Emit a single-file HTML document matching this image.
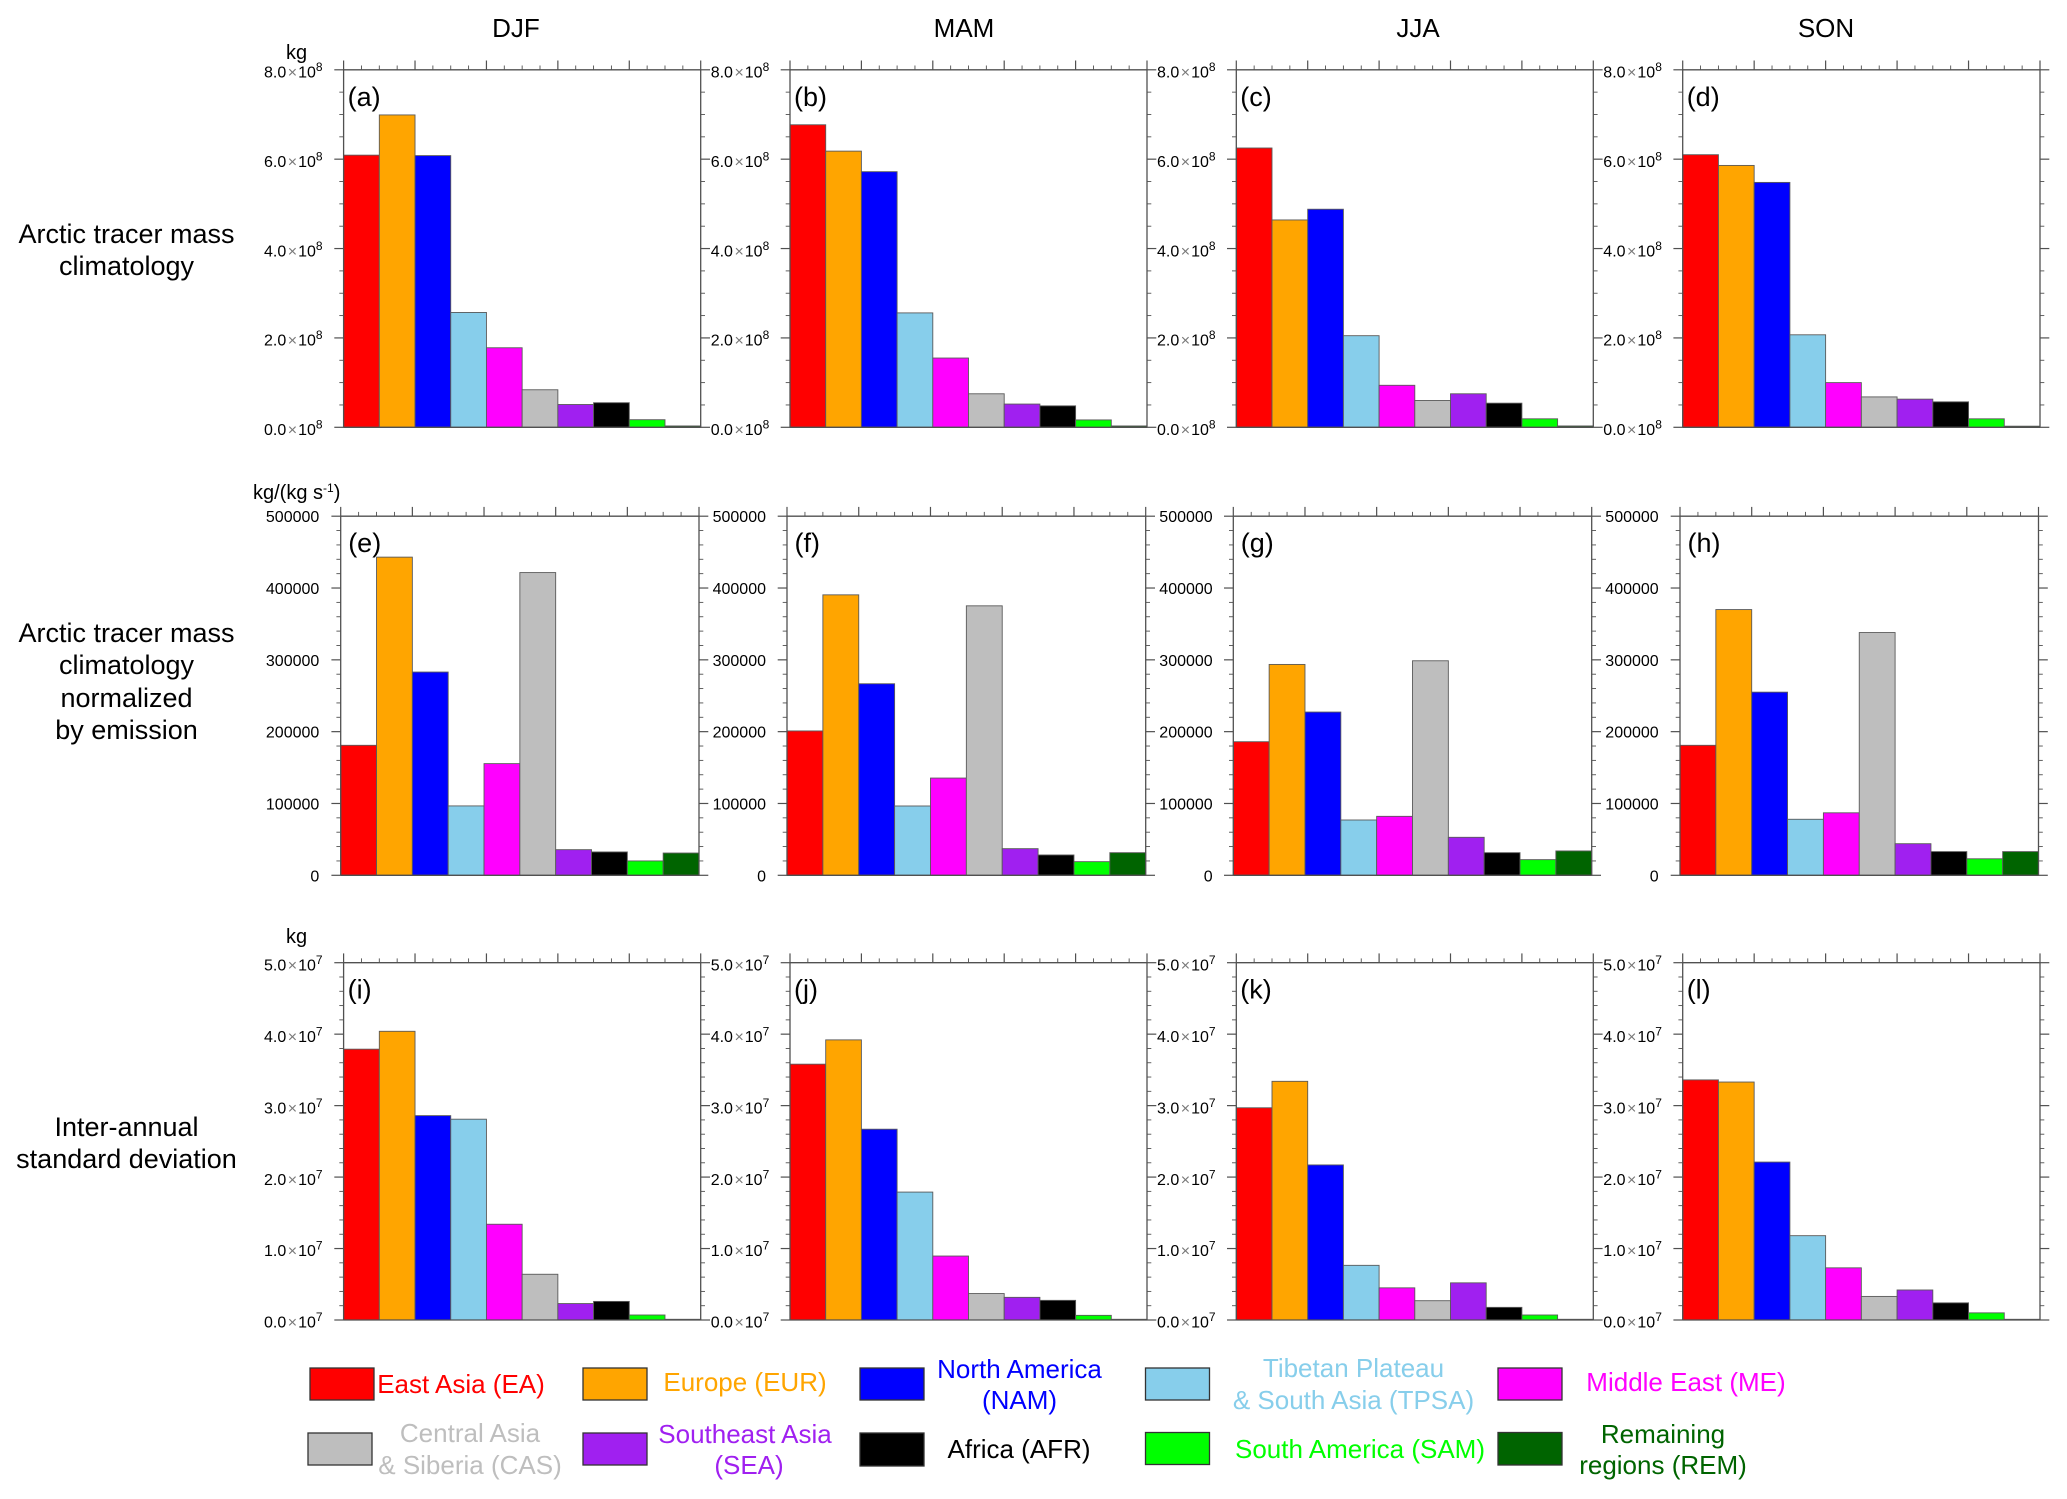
<!DOCTYPE html>
<html lang="en">
<head>
<meta charset="utf-8">
<title>Arctic tracer mass by source region and season</title>
<style>
html,body{margin:0;padding:0;background:#fff;}
svg{display:block;}
text{font-family:"Liberation Sans",sans-serif;fill:#000;}
.title{font-size:26px;text-anchor:middle;}
.rowlab{font-size:27px;text-anchor:middle;}
.unit{font-size:20px;}
.leg{font-size:26px;text-anchor:middle;}
.box{stroke:#333;stroke-width:1.3;}
</style>
</head>
<body>
<svg id="chart" xmlns="http://www.w3.org/2000/svg" width="2067" height="1499" viewBox="0 0 2067 1499">
  <rect x="0" y="0" width="2067" height="1499" fill="#fff"/>

  <text class="title" x="516" y="37">DJF</text>
  <text class="title" x="964" y="37">MAM</text>
  <text class="title" x="1418" y="37">JJA</text>
  <text class="title" x="1826" y="37">SON</text>

  <g>
    <text class="rowlab" x="126.5" y="243">Arctic tracer mass</text>
    <text class="rowlab" x="126.5" y="275">climatology</text>
  </g>
  <g>
    <text class="rowlab" x="126.5" y="642">Arctic tracer mass</text>
    <text class="rowlab" x="126.5" y="674">climatology</text>
    <text class="rowlab" x="126.5" y="707">normalized</text>
    <text class="rowlab" x="126.5" y="739">by emission</text>
  </g>
  <g>
    <text class="rowlab" x="126.5" y="1136">Inter-annual</text>
    <text class="rowlab" x="126.5" y="1168">standard deviation</text>
  </g>

  <text class="unit" x="286" y="59">kg</text>
  <text class="unit" x="253" y="499">kg/(kg s<tspan dy="-7" font-size="12">-1</tspan><tspan dy="7">)</tspan></text>
  <text class="unit" x="286" y="943">kg</text>

  <g id="panels"></g>

  <g>
    <g>
      <rect class="box" x="310" y="1368" width="64" height="32" fill="#ff0000"/>
      <text class="leg" x="461" y="1393" style="fill:#ff0000">East Asia (EA)</text>
    </g>
    <g>
      <rect class="box" x="583" y="1368" width="64" height="32" fill="#ffa500"/>
      <text class="leg" x="745" y="1391" style="fill:#ffa500">Europe (EUR)</text>
    </g>
    <g>
      <rect class="box" x="860" y="1368" width="64" height="32" fill="#0000ff"/>
      <text class="leg" x="1019.5" y="1378" style="fill:#0000ff">North America</text>
      <text class="leg" x="1019.5" y="1409" style="fill:#0000ff">(NAM)</text>
    </g>
    <g>
      <rect class="box" x="1145.5" y="1368" width="64" height="32" fill="#87ceeb"/>
      <text class="leg" x="1353.5" y="1377" style="fill:#87ceeb">Tibetan Plateau</text>
      <text class="leg" x="1353.5" y="1409" style="fill:#87ceeb">&amp; South Asia (TPSA)</text>
    </g>
    <g>
      <rect class="box" x="1498" y="1368" width="64" height="32" fill="#ff00ff"/>
      <text class="leg" x="1686" y="1391" style="fill:#ff00ff">Middle East (ME)</text>
    </g>
    <g>
      <rect class="box" x="308" y="1433" width="64" height="32" fill="#bebebe"/>
      <text class="leg" x="470" y="1442" style="fill:#bebebe">Central Asia</text>
      <text class="leg" x="470" y="1474" style="fill:#bebebe">&amp; Siberia (CAS)</text>
    </g>
    <g>
      <rect class="box" x="583" y="1433" width="64" height="32" fill="#a020f0"/>
      <text class="leg" x="745" y="1443" style="fill:#a020f0">Southeast Asia</text>
      <text class="leg" x="749" y="1474" style="fill:#a020f0">(SEA)</text>
    </g>
    <g>
      <rect class="box" x="860" y="1433" width="64" height="33" fill="#000000"/>
      <text class="leg" x="1019" y="1458">Africa (AFR)</text>
    </g>
    <g>
      <rect class="box" x="1145.5" y="1432.5" width="64" height="32" fill="#00ff00"/>
      <text class="leg" x="1360" y="1458" style="fill:#00ff00">South America (SAM)</text>
    </g>
    <g>
      <rect class="box" x="1498" y="1432.5" width="64" height="32.5" fill="#006400"/>
      <text class="leg" x="1663" y="1443" style="fill:#006400">Remaining</text>
      <text class="leg" x="1663" y="1474" style="fill:#006400">regions (REM)</text>
    </g>
  </g>
</svg>

<script>
/* ---------- chart data ---------- */
const categories = ["EA","EUR","NAM","TPSA","ME","CAS","SEA","AFR","SAM","REM"];
const seasons = ["DJF","MAM","JJA","SON"];
const panelLetters = ["a","b","c","d","e","f","g","h","i","j","k","l"];

/* Arctic tracer mass climatology, units of 1e8 kg */
const massDJF = [6.09,6.99,6.08,2.57,1.78,0.84,0.51,0.55,0.17,0.03];
const massMAM = [6.77,6.18,5.72,2.56,1.55,0.75,0.52,0.48,0.165,0.03];
const massJJA = [6.25,4.64,4.88,2.05,0.94,0.60,0.75,0.54,0.19,0.03];
const massSON = [6.10,5.86,5.48,2.07,1.00,0.68,0.63,0.57,0.19,0.025];

/* Normalized by emission, kg/(kg s-1) */
const normDJF = [181000,443000,283000,96600,155500,421500,35700,32500,20000,31000];
const normMAM = [201000,390500,266700,96500,135400,375200,37100,28300,19000,31500];
const normJJA = [186000,293600,227300,77000,82100,298700,52900,31500,21800,33900];
const normSON = [181000,370000,255000,78000,87000,338000,44000,33000,23000,33000];

/* Inter-annual standard deviation, units of 1e7 kg */
const stdDJF = [3.79,4.04,2.86,2.81,1.34,0.64,0.23,0.26,0.07,0.01];
const stdMAM = [3.58,3.92,2.67,1.79,0.895,0.37,0.317,0.275,0.065,0.01];
const stdJJA = [2.97,3.34,2.17,0.765,0.45,0.27,0.52,0.177,0.07,0.01];
const stdSON = [3.36,3.33,2.21,1.18,0.73,0.33,0.42,0.24,0.10,0.01];

const massTicks = [0,2,4,6,8];
const massTickLabels = ["0.0","2.0","4.0","6.0","8.0"];
const normTicks = [0,100000,200000,300000,400000,500000];
const normTickLabels = ["0","100000","200000","300000","400000","500000"];
const stdTicks = [0,1,2,3,4,5];
const stdTickLabels = ["0.0","1.0","2.0","3.0","4.0","5.0"];

/* ---------- styling and layout (not data) ---------- */
const barStyle = {
  EA:"#ff0000", EUR:"#ffa500", NAM:"#0000ff", TPSA:"#87ceeb", ME:"#ff00ff",
  CAS:"#bebebe", SEA:"#a020f0", AFR:"#000000", SAM:"#00ff00", REM:"#006400"
};
const rowSpecs = [
  {series:[massDJF,massMAM,massJJA,massSON], ticks:massTicks, labels:massTickLabels, minorPerMajor:4, power:"8",
   top:69.8, bottom:427.3, lefts:[343.6,790,1236.3,1682.7], rights:[700.7,1147,1593.3,2040], letterDx:4},
  {series:[normDJF,normMAM,normJJA,normSON], ticks:normTicks, labels:normTickLabels, minorPerMajor:5, power:null,
   top:516.2, bottom:875.3, lefts:[340.7,787,1233.3,1680], rights:[699,1145.7,1591.7,2038.5], letterDx:7.5},
  {series:[stdDJF,stdMAM,stdJJA,stdSON], ticks:stdTicks, labels:stdTickLabels, minorPerMajor:5, power:"7",
   top:962.7, bottom:1320, lefts:[343.6,790,1236.3,1682.7], rights:[700.7,1147,1593.3,2040], letterDx:4}
];

const NS = "http://www.w3.org/2000/svg";
const axisColor = "#505050";
const root = document.getElementById("panels");

function node(parent, tag, attrs) {
  const el = document.createElementNS(NS, tag);
  for (const k in attrs) el.setAttribute(k, attrs[k]);
  parent.appendChild(el);
  return el;
}
function axisLine(parent, x1, y1, x2, y2, w, name) {
  const el = node(parent, "line", {x1:x1, y1:y1, x2:x2, y2:y2, stroke:axisColor, "stroke-width":w});
  
  
  return el;
}
function powerLabel(parent, x, y, mant, power, name) {
  const t = node(parent, "text", {x:x, y:y, "font-size":16});
  
  
  const a = node(t, "tspan", {});
  a.textContent = mant;
  const b = node(t, "tspan", {dx:1.5, style:"fill:#777"});
  b.textContent = "\u00D7";
  const c = node(t, "tspan", {dx:1});
  c.textContent = "10";
  const d = node(t, "tspan", {dy:-6.5, "font-size":12});
  d.textContent = power;
}

function drawPanel(spec, col, letter) {
  const left = spec.lefts[col], right = spec.rights[col];
  const top = spec.top, bottom = spec.bottom;
  const values = spec.series[col];
  const yMax = spec.ticks[spec.ticks.length - 1];
  const xScale = i => left + (right - left) * i / categories.length;
  const yScale = v => bottom - (bottom - top) * v / yMax;

  const g = node(root, "g", {});
  
  

  /* bars */
  categories.forEach((cat, i) => {
    const bar = node(g, "rect", {
      x: xScale(i), y: yScale(values[i]),
      width: xScale(i + 1) - xScale(i),
      height: bottom - yScale(values[i]),
      fill: barStyle[cat], stroke: "#5a5a5a", "stroke-width": 0.9
    });
    
    
  });

  /* frame */
  axisLine(g, left, top, right, top, 1.3, 'top-axis-' + letter);
  axisLine(g, left, bottom, right, bottom, 1.3, 'bottom-axis-' + letter);
  axisLine(g, left, top, left, bottom, 1.3, 'left-axis-' + letter);
  axisLine(g, right, top, right, bottom, 1.3, 'right-axis-' + letter);

  /* top x ticks: major every 2 categories, minor every half category */
  for (let k = 0; k <= categories.length * 2; k++) {
    const x = xScale(k / 2);
    const major = k % 4 === 0;
    axisLine(g, x, top, x, top - (major ? 9.3 : 4.3), major ? 1.2 : 0.9, major ? 'x-major-tick' : 'x-minor-tick');
  }

  /* y ticks */
  const step = spec.ticks[1] - spec.ticks[0];
  for (let m = 0; m < spec.ticks.length - 1; m++) {
    for (let n = 1; n < spec.minorPerMajor; n++) {
      const y = yScale(spec.ticks[m] + step * n / spec.minorPerMajor);
      axisLine(g, left, y, left - 4.3, y, 0.9, 'y-minor-tick-left');
      axisLine(g, right, y, right + 4.3, y, 0.9, 'y-minor-tick-right');
    }
  }
  spec.ticks.forEach((tick, i) => {
    const y = yScale(tick);
    axisLine(g, left, y, left - 9.3, y, 1.2, 'y-major-tick-left');
    axisLine(g, right, y, right + 9.3, y, 1.2, 'y-major-tick-right');

    if (spec.power) {
      if (col === 0) powerLabel(g, left - 79.6, y + 7.7, spec.labels[i], spec.power, 'y-tick-label-left');
      if (col < 3) powerLabel(g, right + 10, y + 7.7, spec.labels[i], spec.power, 'y-tick-label-right');
    } else {
      if (col === 0) {
        const t = node(g, "text", {x:left - 21.4, y:y + 6, "font-size":16, "text-anchor":"end"});
        
        
        t.textContent = spec.labels[i];
      }
      if (col < 3) {
        const t = node(g, "text", {x:right + 67, y:y + 6, "font-size":16, "text-anchor":"end"});
        
        
        t.textContent = spec.labels[i];
      }
    }
  });

  /* panel letter */
  const lab = node(g, "text", {x:left + spec.letterDx, y:top + 36, "font-size":27});
  
  
  lab.textContent = "(" + letter + ")";
}

rowSpecs.forEach((spec, r) => {
  seasons.forEach((season, c) => {
    drawPanel(spec, c, panelLetters[r * seasons.length + c]);
  });
});
</script>
</body>
</html>
